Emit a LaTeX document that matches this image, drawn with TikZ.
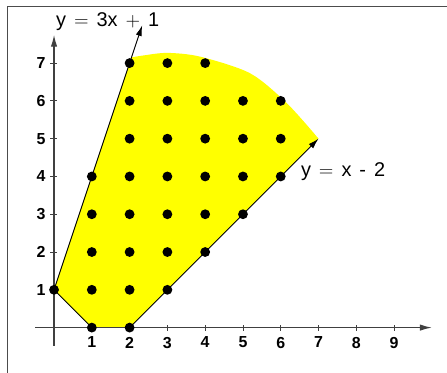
\documentclass[tikz,border=0pt]{standalone}
\usepackage{fontspec}
\setsansfont{Liberation Sans}
\usepackage{tikz}
\usetikzlibrary{arrows.meta}
\definecolor{region}{RGB}{255,255,0}

\begin{document}
\begin{tikzpicture}[
  lattice/.style={circle, fill=black, inner sep=0pt, minimum size=7.4pt},
  ticklabel/.style={font=\sffamily\bfseries\fontsize{12}{14}\selectfont, inner sep=0pt},
  linelabel/.style={font=\sffamily\fontsize{15}{18}\selectfont, inner sep=0pt, anchor=base},
  axis/.style={black!75, line width=0.9pt, -{Latex[length=9pt,width=4.8pt]}},
  bound/.style={black, line width=0.7pt, -{Latex[length=8pt,width=4.6pt]}}]

  \useasboundingbox (-1.43,-1.20) rectangle (10.40,8.67);

  %% Frame
  \draw[black!70, line width=0.8pt] (-1.24,-1.20) -- (-1.24,8.51) -- (10.40,8.51);

  %% Feasible region
  \fill[region] (0,1) -- (1,0) -- (2,0) -- (7,5)
    -- plot[smooth] coordinates {(7,5) (6.16,5.94) (5.19,6.73) (3.87,7.17)
                                 (3,7.27) (2.35,7.2) (2.05,7.15)} -- cycle;

  %% Bounding lines
  \coordinate (A) at (0,1);
  \coordinate (B) at (1,0);
  \coordinate (C) at (2,0);
  \coordinate (Aend) at (7/3,8);
  \coordinate (Cend) at (7,5);
  \draw[black, line width=0.6pt] (A) -- (B);
  \draw[bound] (A) -- (Aend);
  \draw[bound] (C) -- (Cend);

  %% Axes
  \draw[axis] (-0.5,0) -- (10,0);
  \draw[axis] (0,-0.48) -- (0,7.75);
  \foreach \x in {1,...,9} {
    \draw[black!75, line width=0.6pt] (\x,-0.08) -- (\x,0.08);
    \node[ticklabel, anchor=north] (xl\x) at (\x,-0.24) {\x};
  }
  \foreach \y in {1,...,7} {
    \draw[black!75, line width=0.6pt] (-0.1,\y) -- (0.08,\y);
    \node[ticklabel, anchor=east] (yl\y) at (-0.22,\y) {\y};
  }

  %% Integer points
  \foreach \x/\ylo/\yhi in {0/1/1, 1/0/4, 2/0/7, 3/1/7, 4/2/7, 5/3/6, 6/4/6}
    \foreach \y in {\ylo,...,\yhi}
      \node[lattice] (p\x\y) at (\x,\y) {};

  %% Line labels
  \node[linelabel] (steep) at (1.42,7.97)
    {y\hspace{0.4em}$=$\hspace{0.4em}3x\hspace{0.4em}$+$\hspace{0.4em}1};
  \node[linelabel] (flat) at (7.65,4.0)
    {y\hspace{0.4em}$=$\hspace{0.4em}x\hspace{0.4em}-\hspace{0.4em}2};

\end{tikzpicture}
\end{document}
